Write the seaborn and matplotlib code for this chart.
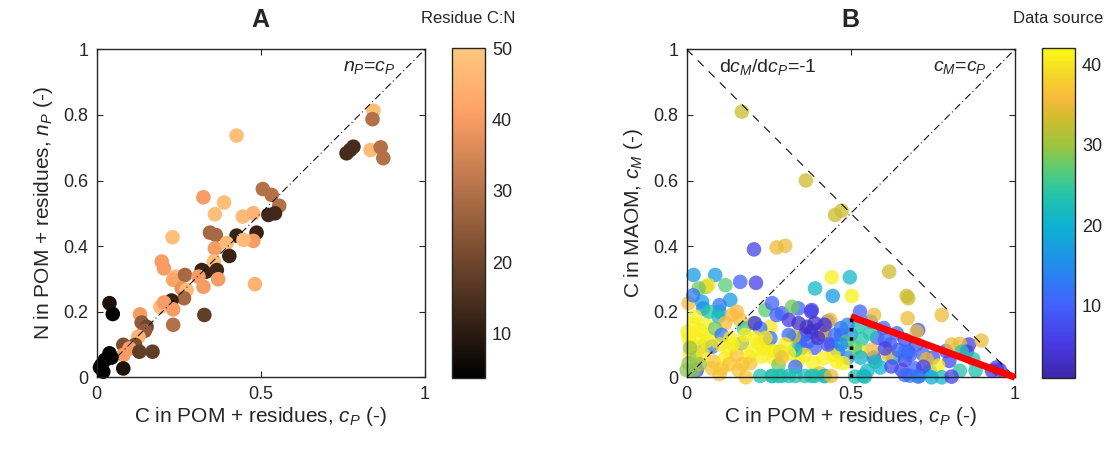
import pandas as pd
import seaborn as sns
import matplotlib.pyplot as plt
from matplotlib.colors import LinearSegmentedColormap, Normalize
from matplotlib.cm import ScalarMappable

# Panel A: C and N fractions in POM + residues, coloured by residue C:N
cp_a = [0.843, 0.840, 0.761, 0.772, 0.782, 0.834, 0.865, 0.873, 0.426, 0.506,
        0.533, 0.556, 0.523, 0.543, 0.487, 0.426, 0.477, 0.447, 0.445, 0.477,
        0.388, 0.360, 0.325, 0.345, 0.363, 0.360, 0.396, 0.404, 0.231, 0.198,
        0.205, 0.241, 0.233, 0.269, 0.259, 0.274, 0.266, 0.320, 0.333, 0.310,
        0.325, 0.357, 0.366, 0.370, 0.482, 0.228, 0.194, 0.205, 0.233, 0.233,
        0.328, 0.132, 0.137, 0.152, 0.147, 0.127, 0.081, 0.117, 0.100, 0.130,
        0.170, 0.081, 0.081, 0.039, 0.049, 0.039, 0.045, 0.025, 0.015, 0.020,
        0.010]
np_a = [0.813, 0.787, 0.683, 0.693, 0.703, 0.693, 0.701, 0.668, 0.737, 0.574,
        0.556, 0.523, 0.495, 0.500, 0.441, 0.432, 0.416, 0.419, 0.490, 0.500,
        0.533, 0.497, 0.549, 0.441, 0.434, 0.393, 0.409, 0.370, 0.427, 0.353,
        0.332, 0.307, 0.297, 0.312, 0.271, 0.266, 0.241, 0.327, 0.322, 0.307,
        0.276, 0.353, 0.327, 0.299, 0.284, 0.234, 0.215, 0.228, 0.207, 0.160,
        0.190, 0.192, 0.167, 0.154, 0.142, 0.124, 0.099, 0.099, 0.088, 0.078,
        0.078, 0.068, 0.027, 0.226, 0.193, 0.073, 0.060, 0.053, 0.038, 0.017,
        0.030]
cn_a = [48, 30, 14, 14, 14, 47, 30, 30, 48, 30,
        30, 30, 13, 13, 12, 12, 40, 47, 47, 45,
        48, 48, 40, 28, 28, 40, 47, 12, 48, 40,
        40, 47, 42, 28, 38, 47, 28, 12, 12, 40,
        40, 48, 13, 40, 45, 12, 47, 40, 40, 30,
        18, 40, 25, 20, 25, 45, 22, 22, 40, 18,
        18, 40, 8, 8, 4, 4, 4, 4, 4, 4,
        4]

# Panel B: C in MAOM vs C in POM + residues, coloured by data source
cp_b = [0.168, 0.363, 0.452, 0.472, 0.205, 0.274, 0.300, 0.617, 0.670, 0.675,
        0.442, 0.497, 0.391, 0.445, 0.503, 0.021, 0.087, 0.060, 0.066, 0.118,
        0.163, 0.211, 0.133, 0.037, 0.006, 0.047,
        0.050, 0.100, 0.020, 0.100,
        0.360, 0.380, 0.410, 0.350, 0.390, 0.440, 0.460, 0.490, 0.500, 0.470,
        0.430, 0.560, 0.580, 0.600, 0.620, 0.570, 0.590, 0.630, 0.700, 0.720,
        0.750, 0.790, 0.800, 0.860, 0.880, 0.740, 0.680, 0.710, 0.930,
        0.777, 0.673, 0.571, 0.528, 0.437, 0.340, 0.379, 0.705, 0.700, 0.898,
        0.807, 0.832, 0.944, 0.614, 0.766, 0.366, 0.401, 0.421, 0.452, 0.523,
        0.558, 0.533, 0.604, 0.640, 0.345, 0.370, 0.487, 0.563, 0.528, 0.513,
        0.645, 0.675, 0.447, 0.416, 0.360, 0.340, 0.386, 0.330, 0.457, 0.477,
        0.406, 0.360, 0.513, 0.543, 0.574, 0.624, 0.655, 0.665, 0.604, 0.538,
        0.853, 0.838, 0.873, 0.832, 0.731, 0.680, 0.695, 0.721, 0.705, 0.746,
        0.777, 0.807, 0.665, 0.954, 0.665, 0.665,
        0.026, 0.067, 0.097, 0.138, 0.153, 0.163, 0.118, 0.174, 0.240, 0.260,
        0.290, 0.321, 0.311, 0.341, 0.204, 0.255, 0.224, 0.003, 0.006, 0.041,
        0.057, 0.072, 0.087, 0.107, 0.011, 0.006, 0.026, 0.047, 0.077, 0.082,
        0.077, 0.107, 0.118, 0.128, 0.153, 0.158, 0.189, 0.194, 0.168, 0.219,
        0.234, 0.250, 0.229, 0.265, 0.285, 0.280, 0.224, 0.311, 0.326, 0.311,
        0.255, 0.331, 0.311, 0.331, 0.031, 0.000, 0.178, 0.133, 0.208, 0.274,
        0.381, 0.390, 0.420, 0.400, 0.430, 0.470, 0.490, 0.470, 0.530, 0.550,
        0.260, 0.290, 0.390, 0.420,
        0.020, 0.015, 0.035, 0.050, 0.060, 0.100, 0.140, 0.200, 0.210, 0.240,
        0.260, 0.300, 0.290, 0.170, 0.130, 0.100, 0.180, 0.020, 0.040, 0.010,
        0.260, 0.280, 0.380, 0.420, 0.440]
cm_b = [0.810, 0.600, 0.495, 0.508, 0.390, 0.396, 0.401, 0.322, 0.248, 0.241,
        0.305, 0.305, 0.271, 0.248, 0.248, 0.312, 0.312, 0.276, 0.281, 0.281,
        0.291, 0.288, 0.236, 0.271, 0.226, 0.230,
        0.210, 0.220, 0.250, 0.200,
        0.130, 0.140, 0.130, 0.090, 0.090, 0.100, 0.080, 0.060, 0.130, 0.130,
        0.170, 0.170, 0.120, 0.150, 0.100, 0.060, 0.030, 0.060, 0.100, 0.070,
        0.060, 0.080, 0.050, 0.100, 0.020, 0.020, 0.005, 0.005, 0.020,
        0.190, 0.180, 0.190, 0.200, 0.175, 0.210, 0.200, 0.144, 0.139, 0.112,
        0.100, 0.102, 0.030, 0.070, 0.035, 0.154, 0.144, 0.136, 0.129, 0.154,
        0.134, 0.116, 0.114, 0.134, 0.114, 0.109, 0.109, 0.083, 0.078, 0.091,
        0.083, 0.078, 0.068, 0.058, 0.068, 0.053, 0.043, 0.083, 0.048, 0.043,
        0.012, 0.004, 0.002, 0.002, 0.048, 0.033, 0.022, 0.053, 0.088, 0.004,
        0.078, 0.078, 0.055, 0.020, 0.055, 0.068, 0.027, 0.032, 0.002, 0.000,
        0.000, 0.002, 0.007, 0.022, 0.114, 0.078,
        0.185, 0.200, 0.185, 0.190, 0.200, 0.175, 0.165, 0.149, 0.205, 0.226,
        0.195, 0.215, 0.175, 0.165, 0.165, 0.154, 0.149, 0.139, 0.119, 0.144,
        0.159, 0.119, 0.149, 0.129, 0.073, 0.043, 0.058, 0.093, 0.093, 0.048,
        0.027, 0.027, 0.058, 0.083, 0.068, 0.022, 0.063, 0.043, 0.104, 0.104,
        0.088, 0.098, 0.063, 0.058, 0.078, 0.038, 0.004, 0.073, 0.124, 0.129,
        0.119, 0.032, 0.004, 0.004, 0.022, 0.022, 0.129, 0.119, 0.165, 0.190,
        0.205, 0.165, 0.160, 0.120, 0.100, 0.150, 0.160, 0.100, 0.060, 0.020,
        0.004, 0.004, 0.004, 0.004,
        0.160, 0.100, 0.120, 0.070, 0.110, 0.100, 0.100, 0.080, 0.120, 0.120,
        0.080, 0.100, 0.060, 0.040, 0.040, 0.010, 0.000, 0.020, 0.040, 0.090,
        0.004, 0.004, 0.004, 0.004, 0.004]
src_b = [33, 33, 33, 33, 6, 35, 35, 33, 33, 33,
         41, 21, 21, 17, 41, 17, 17, 30, 40, 27,
         10, 6, 17, 28, 36, 18,
         15, 12, 13, 17,
         4, 3, 5, 8, 10, 9, 12, 14, 15, 10,
         8, 12, 10, 11, 8, 6, 20, 18, 8, 10,
         8, 9, 7, 6, 23, 18, 14, 19, 5,
         35, 35, 35, 10, 35, 10, 6, 9, 35, 35,
         35, 35, 5, 35, 41, 3, 6, 35, 11, 23,
         24, 24, 11, 11, 12, 10, 26, 35, 40, 27,
         10, 9, 41, 41, 41, 41, 41, 23, 41, 41,
         35, 23, 23, 22, 22, 7, 7, 6, 6, 22,
         5, 24, 24, 24, 35, 10, 10, 6, 12, 19,
         21, 6, 11, 5, 7, 12,
         41, 24, 22, 36, 36, 36, 36, 25, 27, 10,
         10, 28, 5, 3, 30, 40, 12, 41, 41, 41,
         41, 41, 28, 12, 41, 30, 29, 31, 12, 37,
         37, 37, 41, 41, 37, 37, 41, 37, 31, 41,
         41, 41, 41, 41, 31, 28, 23, 41, 32, 11,
         12, 11, 23, 23, 8, 29, 41, 41, 5, 10,
         6, 3, 4, 4, 8, 12, 14, 15, 20, 21,
         23, 23, 22, 22,
         41, 41, 41, 40, 41, 40, 41, 41, 41, 40,
         41, 41, 37, 37, 37, 37, 37, 29, 30, 30,
         23, 23, 23, 23, 35]

xticks = [0, 0.5, 1]
xtick_labels = ['0', '0.5', '1']
yticks = [0, 0.2, 0.4, 0.6, 0.8, 1]
ytick_labels = ['0', '0.2', '0.4', '0.6', '0.8', '1']
cn_range = (3.7, 50)
cn_ticks = [10, 20, 30, 40, 50]
src_range = (1, 42)
src_ticks = [10, 20, 30, 40]

# reference / fitted lines
diag_x = [0, 1]
diag_y = [0, 1]
anti_y = [1, 0]
red_x = [0.5, 1.0]
red_y = [0.185, 0.0]
sat_x = [0.5, 0.5]
sat_y = [0.0, 0.18]

# parula-like colormap
parula = LinearSegmentedColormap.from_list('parula', [
    (0.000, (0.24, 0.15, 0.66)),
    (0.098, (0.28, 0.22, 0.88)),
    (0.220, (0.26, 0.38, 0.99)),
    (0.341, (0.13, 0.55, 0.93)),
    (0.463, (0.05, 0.70, 0.82)),
    (0.561, (0.15, 0.77, 0.66)),
    (0.634, (0.35, 0.80, 0.45)),
    (0.707, (0.62, 0.77, 0.25)),
    (0.780, (0.80, 0.74, 0.18)),
    (0.854, (0.98, 0.73, 0.24)),
    (0.927, (0.96, 0.85, 0.15)),
    (1.000, (0.98, 0.98, 0.08))])

sns.set_theme(style='white')
plt.rcParams['font.family'] = ['Liberation Sans', 'DejaVu Sans']
plt.rcParams['mathtext.fontset'] = 'custom'
plt.rcParams['mathtext.rm'] = 'Liberation Sans'
plt.rcParams['mathtext.it'] = 'Liberation Sans:italic'
dark = '#262626'

fig = plt.figure(figsize=(11.1, 4.57), dpi=100)
axA = fig.add_axes([0.0871, 0.1744, 0.2958, 0.7177])
axB = fig.add_axes([0.6186, 0.1744, 0.2958, 0.7177])
caxA = fig.add_axes([0.4069, 0.1722, 0.0300, 0.7221])
caxB = fig.add_axes([0.9385, 0.1722, 0.0300, 0.7221])

dfA = pd.DataFrame({'cp': cp_a, 'np': np_a, 'cn': cn_a})
dfB = pd.DataFrame({'cp': cp_b, 'cm': cm_b, 'src': src_b})

sns.scatterplot(data=dfA, x='cp', y='np', hue='cn', palette='copper',
                hue_norm=cn_range, s=110, linewidth=0, legend=False, ax=axA,
                clip_on=False, zorder=2)
axA.plot(diag_x, diag_y, color='black', lw=0.75, linestyle=(0, (7, 3, 1, 3)), zorder=3)
axA.text(0.75, 0.945, '$n_P$=$c_P$', fontsize=14, ha='left', va='center')

sns.scatterplot(data=dfB, x='cp', y='cm', hue='src', palette=parula,
                hue_norm=src_range, s=110, linewidth=0, alpha=0.75, legend=False,
                ax=axB, clip_on=False, zorder=2)
axB.plot(diag_x, diag_y, color='black', lw=0.75, linestyle=(0, (7, 3, 1, 3)), zorder=3)
axB.plot(diag_x, anti_y, color='black', lw=0.75, linestyle=(0, (8, 7)), zorder=3)
axB.plot(red_x, red_y, color='red', lw=5, solid_capstyle='butt', zorder=4, clip_on=False)
axB.plot(sat_x, sat_y, color='black', lw=2.5, linestyle=':', zorder=5)
axB.text(0.1, 0.945, 'd$c_M$/d$c_P$=-1', fontsize=14, ha='left', va='center')
axB.text(0.75, 0.945, '$c_M$=$c_P$', fontsize=14, ha='left', va='center')

for ax, title, ylabel in [(axA, 'A', 'N in POM + residues, $n_P$ (-)'),
                          (axB, 'B', 'C in MAOM, $c_M$ (-)')]:
    ax.set_xlim(0, 1)
    ax.set_ylim(0, 1)
    ax.set_xticks(xticks)
    ax.set_xticklabels(xtick_labels)
    ax.set_yticks(yticks)
    ax.set_yticklabels(ytick_labels)
    ax.tick_params(direction='in', length=4, width=0.8, color=dark,
                   labelsize=13, labelcolor=dark, top=True, right=True,
                   bottom=True, left=True, pad=6)
    for sp in ax.spines.values():
        sp.set_color(dark)
        sp.set_linewidth(1.0)
    ax.set_xlabel('C in POM + residues, $c_P$ (-)', fontsize=15, color=dark, labelpad=2)
    ax.set_ylabel(ylabel, fontsize=15, color=dark, labelpad=6)
    ax.set_title(title, fontsize=18, fontweight='bold', pad=16)

for cax, norm_range, cmap, ticks, label in [
        (caxA, cn_range, 'copper', cn_ticks, 'Residue C:N'),
        (caxB, src_range, parula, src_ticks, 'Data source')]:
    sm = ScalarMappable(norm=Normalize(*norm_range), cmap=cmap)
    cb = fig.colorbar(sm, cax=cax)
    cb.set_ticks(ticks)
    cb.outline.set_edgecolor(dark)
    cb.outline.set_linewidth(1.0)
    cax.tick_params(direction='in', length=3, width=0.8, color=dark,
                    labelsize=13, labelcolor=dark, pad=5)
    cax.set_title(label, fontsize=12, pad=18)

fig.savefig('out.png', dpi=100)
